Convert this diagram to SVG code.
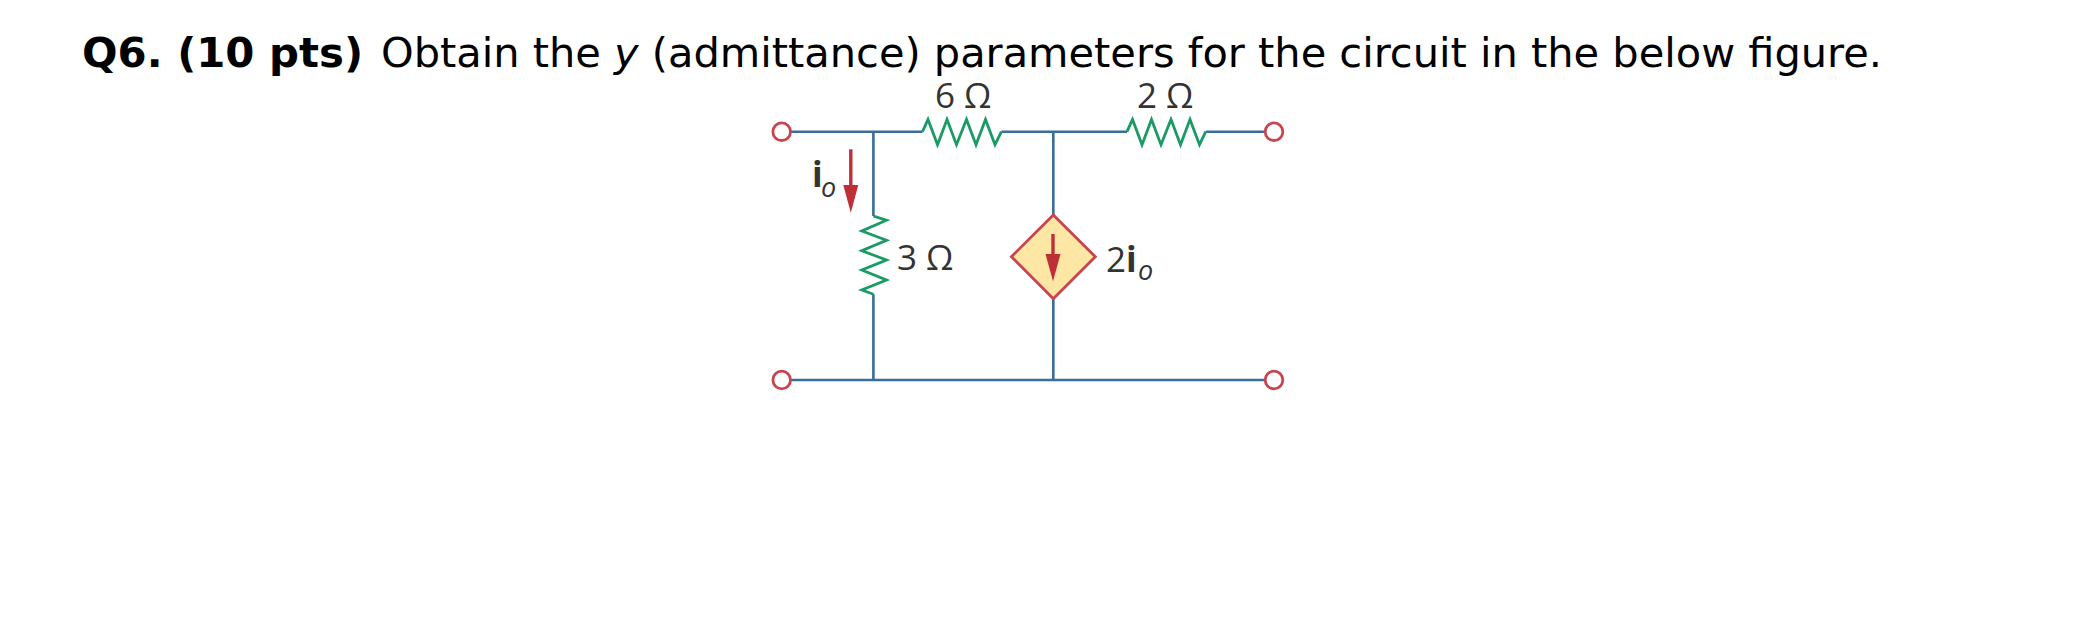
<svg xmlns="http://www.w3.org/2000/svg" width="2087" height="632" viewBox="0 0 2087 632">
<style>
.w{fill:none;stroke:#3a6d9c;stroke-width:2.6}
.r{fill:none;stroke:#1a9a64;stroke-width:2.8}
.t{fill:#fff;stroke:#c8444e;stroke-width:2.8}
.l{font-family:"Open Sans","Noto Sans",sans-serif;fill:#333;font-size:35px}
.s{font-family:"Open Sans","Noto Sans",sans-serif;fill:#333;font-size:27px;font-style:italic}
.a{fill:#bf2f38}
.as{stroke:#bf2f38;stroke-width:3.4;fill:none}
.h{font-family:"DejaVu Sans",sans-serif;font-size:40px;fill:#000}
</style>
<rect width="2087" height="632" fill="#fff"/>
<text id="heading" class="h" y="67"><tspan x="82" textLength="281" lengthAdjust="spacingAndGlyphs" font-weight="bold">Q6. (10 pts)</tspan><tspan x="381" textLength="1501" lengthAdjust="spacingAndGlyphs">Obtain the <tspan font-style="italic">y</tspan> (admittance) parameters for the circuit in the below figure.</tspan></text>
<g id="circuit" transform="translate(-1 0)">
<g id="connectors">
<path class="w" d="M792 131.700H923.500M1002.400 131.700H1128M1206.700 131.700H1265.500"/>
<path class="w" d="M792 380H1265.500"/>
<path class="w" d="M874.400 131.700V216M874.400 294.300V380"/>
<path class="w" d="M1054.300 131.700V215M1054.300 298.700V380"/>
</g>
<g id="r6"><path class="r" d="M923.500 131.700L929 119.500L938.500 144.700L948 119.500L957.500 144.700L967.500 119.500L977 144.700L986.500 119.500L996 144.700L1002.400 131.700"/><text class="l" x="936" y="108">6 Ω</text></g>
<g id="r2"><path class="r" d="M1128 131.700L1133.500 119.500L1143 144.700L1152.500 119.500L1162 144.700L1172 119.500L1181.500 144.700L1191 119.500L1200.500 144.700L1206.700 131.700"/><text class="l" x="1138" y="108">2 Ω</text></g>
<g id="r3"><path class="r" d="M874.400 216L887.500 220.300L862.800 231L887.500 240.300L862.800 250.700L887.500 260L862.800 270L887.500 280L862.800 290L874.400 294.300"/><text class="l" x="898" y="270">3 Ω</text></g>
<g id="source"><path fill="#fee7a4" stroke="#c8444e" stroke-width="2.8" d="M1054.300 215L1096.300 256.700L1054.300 298.700L1012.400 256.700Z"/>
<path class="as" d="M1054 234V258"/><path class="a" d="M1046.500 254H1061.500L1054 281.300Z"/>
<text class="l" x="1107" y="272">2<tspan font-weight="bold">i</tspan></text><text class="s" x="1139" y="280">o</text></g>
<g id="io"><path class="as" d="M851.800 149.300V188"/><path class="a" d="M844.300 185H859.300L851.800 212.700Z"/>
<text class="l" x="813" y="187" font-weight="bold">i</text><text class="s" x="822" y="197">o</text></g>
<g id="t1"><circle class="t" cx="782.700" cy="131.700" r="8.800"/></g>
<g id="t2"><circle class="t" cx="1275" cy="131.700" r="8.800"/></g>
<g id="t3"><circle class="t" cx="782.700" cy="380" r="8.800"/></g>
<g id="t4"><circle class="t" cx="1275" cy="380" r="8.800"/></g>
</g>
</svg>
